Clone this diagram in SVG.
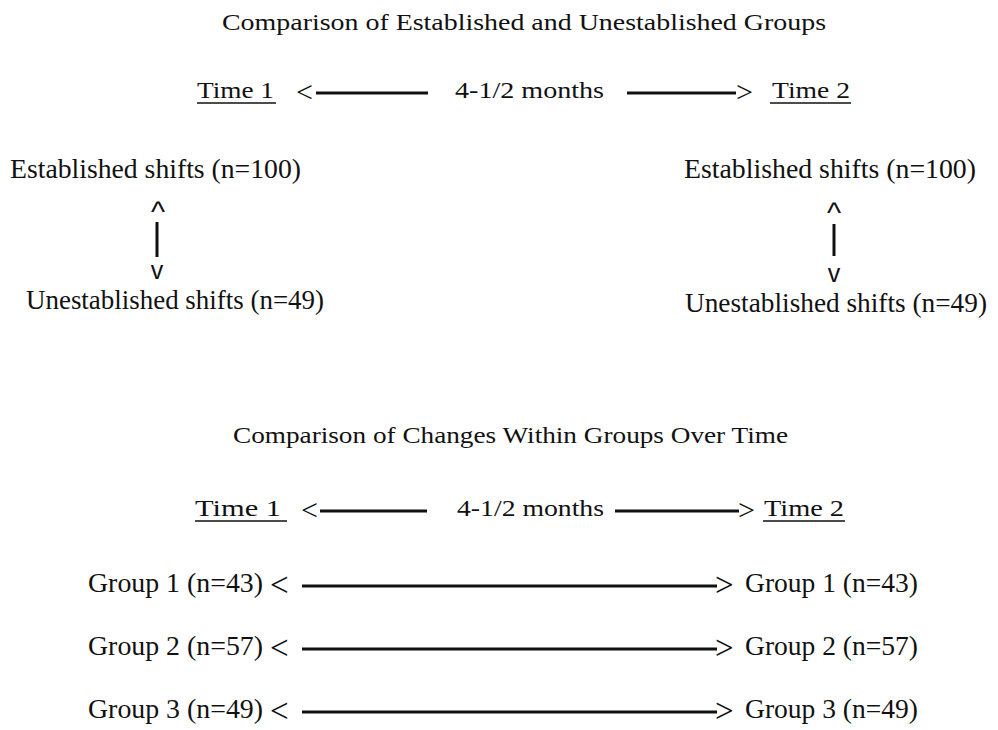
<svg xmlns="http://www.w3.org/2000/svg" width="998" height="730" viewBox="0 0 998 730">
<style>
text{font-family:"Liberation Serif","Times New Roman",serif;fill:#111;}
.t{font-size:24px;}
.n{font-size:27px;}
.g{font-size:28px;}
.a{font-size:24px;}
.ar{font-size:30px;}
.ag{font-size:33px;}
.c{font-family:"Liberation Sans",Arial,sans-serif;font-size:30px;}
.v{font-family:"Liberation Sans",Arial,sans-serif;font-size:25px;}
.ln{stroke:#111;stroke-width:3;fill:none;}
.ul{stroke:#111;stroke-width:1.6;}
</style>
<rect width="998" height="730" fill="#fff"/>
<g id="title1"><text class="t" x="222" y="30" textLength="604" lengthAdjust="spacingAndGlyphs">Comparison of Established and Unestablished Groups</text></g>
<g id="time1-top"><text class="a" x="197" y="98" textLength="77" lengthAdjust="spacingAndGlyphs">Time 1</text><line class="ul" x1="197" y1="103" x2="276" y2="103"/></g>
<g id="interval-top"><text class="a" x="455" y="98" textLength="149" lengthAdjust="spacingAndGlyphs">4-1/2 months</text></g>
<g id="time2-top"><text class="a" x="772" y="98" textLength="78" lengthAdjust="spacingAndGlyphs">Time 2</text><line class="ul" x1="770" y1="103" x2="851" y2="103"/></g>
<g id="est-left"><text class="n" x="10" y="178" textLength="291" lengthAdjust="spacingAndGlyphs">Established shifts (n=100)</text></g>
<g id="unest-left"><text class="n" x="26" y="309" textLength="298" lengthAdjust="spacingAndGlyphs">Unestablished shifts (n=49)</text></g>
<g id="est-right"><text class="n" x="684" y="178" textLength="292" lengthAdjust="spacingAndGlyphs">Established shifts (n=100)</text></g>
<g id="unest-right"><text class="n" x="685" y="312" textLength="302" lengthAdjust="spacingAndGlyphs">Unestablished shifts (n=49)</text></g>
<g id="title2"><text class="t" x="233" y="443" textLength="555" lengthAdjust="spacingAndGlyphs">Comparison of Changes Within Groups Over Time</text></g>
<g id="time1-bot"><text class="a" x="195" y="516" textLength="86" lengthAdjust="spacingAndGlyphs">Time 1</text><line class="ul" x1="195" y1="521" x2="287" y2="521"/></g>
<g id="interval-bot"><text class="a" x="457" y="516" textLength="147" lengthAdjust="spacingAndGlyphs">4-1/2 months</text></g>
<g id="time2-bot"><text class="a" x="764" y="516" textLength="80" lengthAdjust="spacingAndGlyphs">Time 2</text><line class="ul" x1="763" y1="521" x2="845" y2="521"/></g>
<g id="g1-left"><text class="g" x="88" y="592" textLength="175" lengthAdjust="spacingAndGlyphs">Group 1 (n=43)</text></g>
<g id="g1-right"><text class="g" x="745" y="592" textLength="173" lengthAdjust="spacingAndGlyphs">Group 1 (n=43)</text></g>
<g id="g2-left"><text class="g" x="88" y="655" textLength="175" lengthAdjust="spacingAndGlyphs">Group 2 (n=57)</text></g>
<g id="g2-right"><text class="g" x="745" y="655" textLength="173" lengthAdjust="spacingAndGlyphs">Group 2 (n=57)</text></g>
<g id="g3-left"><text class="g" x="88" y="718" textLength="175" lengthAdjust="spacingAndGlyphs">Group 3 (n=49)</text></g>
<g id="g3-right"><text class="g" x="745" y="718" textLength="173" lengthAdjust="spacingAndGlyphs">Group 3 (n=49)</text></g>
<g id="connectors">
<text class="ar" x="296" y="102">&lt;</text>
<line class="ln" x1="316" y1="93" x2="428" y2="93"/>
<line class="ln" x1="627" y1="93" x2="736" y2="93"/>
<text class="ar" x="736" y="102">&gt;</text>
<text class="c" x="158" y="222" text-anchor="middle">^</text>
<line class="ln" x1="157" y1="222" x2="157" y2="257"/>
<text class="v" x="157" y="279" text-anchor="middle">v</text>
<text class="c" x="834" y="223" text-anchor="middle">^</text>
<line class="ln" x1="834" y1="224" x2="834" y2="256"/>
<text class="v" x="834" y="282" text-anchor="middle">v</text>
<text class="ar" x="301" y="520">&lt;</text>
<line class="ln" x1="320" y1="511" x2="427" y2="511"/>
<line class="ln" x1="615" y1="511" x2="739" y2="511"/>
<text class="ar" x="738" y="520">&gt;</text>
<text class="ag" x="270" y="596">&lt;</text>
<line class="ln" x1="302" y1="586" x2="717" y2="586"/>
<text class="ag" x="715" y="596">&gt;</text>
<text class="ag" x="270" y="659">&lt;</text>
<line class="ln" x1="302" y1="649" x2="717" y2="649"/>
<text class="ag" x="715" y="659">&gt;</text>
<text class="ag" x="270" y="722">&lt;</text>
<line class="ln" x1="302" y1="712" x2="717" y2="712"/>
<text class="ag" x="715" y="722">&gt;</text>
</g>
</svg>
